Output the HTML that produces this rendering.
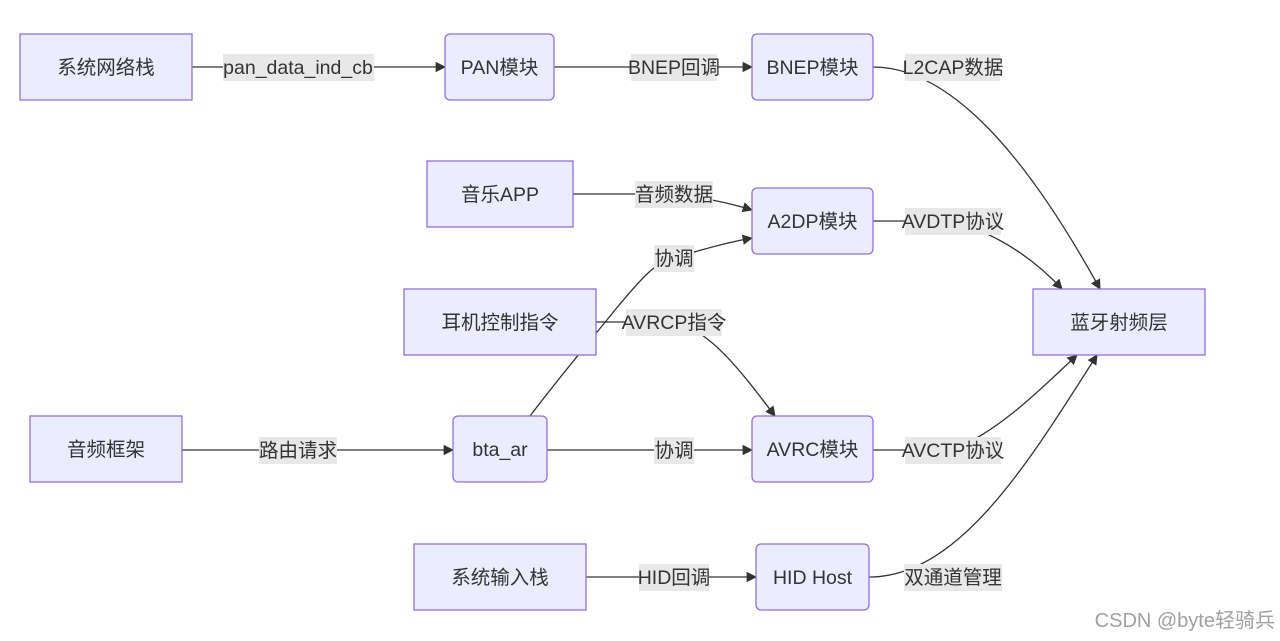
<!DOCTYPE html>
<html><head><meta charset="utf-8"><style>
html,body{margin:0;padding:0;background:#fff;}
svg{display:block}
text{font-family:"Liberation Sans","Noto Sans CJK SC",sans-serif;font-size:19.5px;fill:#333;}
.n{fill:#ececff;stroke:#9370db;stroke-width:1.3}
.e{fill:none;stroke:#333;stroke-width:1.3}
.lb{fill:#e8e8e8}
</style></head><body>
<svg width="1280" height="641" viewBox="0 0 1280 641" xmlns="http://www.w3.org/2000/svg">
<defs><marker id="a" viewBox="0 0 10 10" refX="9" refY="5" markerWidth="8" markerHeight="8" orient="auto"><path d="M0,0L10,5L0,10z" fill="#333"/></marker></defs>
<path class="e" d="M192,67 L445,67" marker-end="url(#a)"/>
<path class="e" d="M554,67 L752,67" marker-end="url(#a)"/>
<path class="e" d="M873,67 C960,67 1040,180 1100,289" marker-end="url(#a)"/>
<path class="e" d="M573,194 L674,194 C700,197 730,203 752,210" marker-end="url(#a)"/>
<path class="e" d="M530,416 C565,370 595,335 615,310 C640,280 655,262 674,258 C700,250 730,242 752,238" marker-end="url(#a)"/>
<path class="e" d="M596,322 L674,322 C710,330 740,370 775,416" marker-end="url(#a)"/>
<path class="e" d="M873,221 L953,221 C1000,235 1035,260 1062,289" marker-end="url(#a)"/>
<path class="e" d="M182,450 L453,450" marker-end="url(#a)"/>
<path class="e" d="M547,450 L752,450" marker-end="url(#a)"/>
<path class="e" d="M873,450 L953,450 C1000,430 1040,390 1077,355" marker-end="url(#a)"/>
<path class="e" d="M586,577 L756,577" marker-end="url(#a)"/>
<path class="e" d="M869,577 C960,577 1030,460 1097,355" marker-end="url(#a)"/>
<g text-anchor="middle">
<rect class="lb" x="223" y="54" width="151" height="27"/><text x="298" y="74">pan_data_ind_cb</text>
<rect class="lb" x="631" y="54" width="86" height="27"/><text x="674" y="74">BNEP回调</text>
<rect class="lb" x="905" y="54" width="95" height="27"/><text x="953" y="74">L2CAP数据</text>
<rect class="lb" x="635" y="181" width="78" height="27"/><text x="674" y="201">音频数据</text>
<rect class="lb" x="654" y="245" width="40" height="27"/><text x="674" y="265">协调</text>
<rect class="lb" x="626" y="309" width="96" height="27"/><text x="674" y="329">AVRCP指令</text>
<rect class="lb" x="905" y="208" width="96" height="27"/><text x="953" y="228">AVDTP协议</text>
<rect class="lb" x="259" y="437" width="78" height="27"/><text x="298" y="457">路由请求</text>
<rect class="lb" x="654" y="437" width="40" height="27"/><text x="674" y="457">协调</text>
<rect class="lb" x="905" y="437" width="96" height="27"/><text x="953" y="457">AVCTP协议</text>
<rect class="lb" x="639" y="564" width="70" height="27"/><text x="674" y="584">HID回调</text>
<rect class="lb" x="904" y="564" width="98" height="27"/><text x="953" y="584">双通道管理</text>
</g>
<g text-anchor="middle">
<rect class="n" x="20" y="34" width="172" height="66"/><text x="106" y="74">系统网络栈</text>
<rect class="n" x="445" y="34" width="109" height="66" rx="5"/><text x="499.5" y="74">PAN模块</text>
<rect class="n" x="752" y="34" width="121" height="66" rx="5"/><text x="812.5" y="74">BNEP模块</text>
<rect class="n" x="427" y="161" width="146" height="66"/><text x="500" y="201">音乐APP</text>
<rect class="n" x="752" y="188" width="121" height="66" rx="5"/><text x="812.5" y="228">A2DP模块</text>
<rect class="n" x="404" y="289" width="192" height="66"/><text x="500" y="329">耳机控制指令</text>
<rect class="n" x="1033" y="289" width="172" height="66"/><text x="1119" y="329">蓝牙射频层</text>
<rect class="n" x="30" y="416" width="152" height="66"/><text x="106" y="456">音频框架</text>
<rect class="n" x="453" y="416" width="94" height="66" rx="5"/><text x="500" y="456">bta_ar</text>
<rect class="n" x="752" y="416" width="121" height="66" rx="5"/><text x="812.5" y="456">AVRC模块</text>
<rect class="n" x="414" y="544" width="172" height="66"/><text x="500" y="584">系统输入栈</text>
<rect class="n" x="756" y="544" width="113" height="66" rx="5"/><text x="812.5" y="584">HID Host</text>
</g>
<text x="1275" y="627" text-anchor="end" style="font-size:20px;fill:#a0a0a0">CSDN @byte轻骑兵</text>
</svg>
</body></html>
